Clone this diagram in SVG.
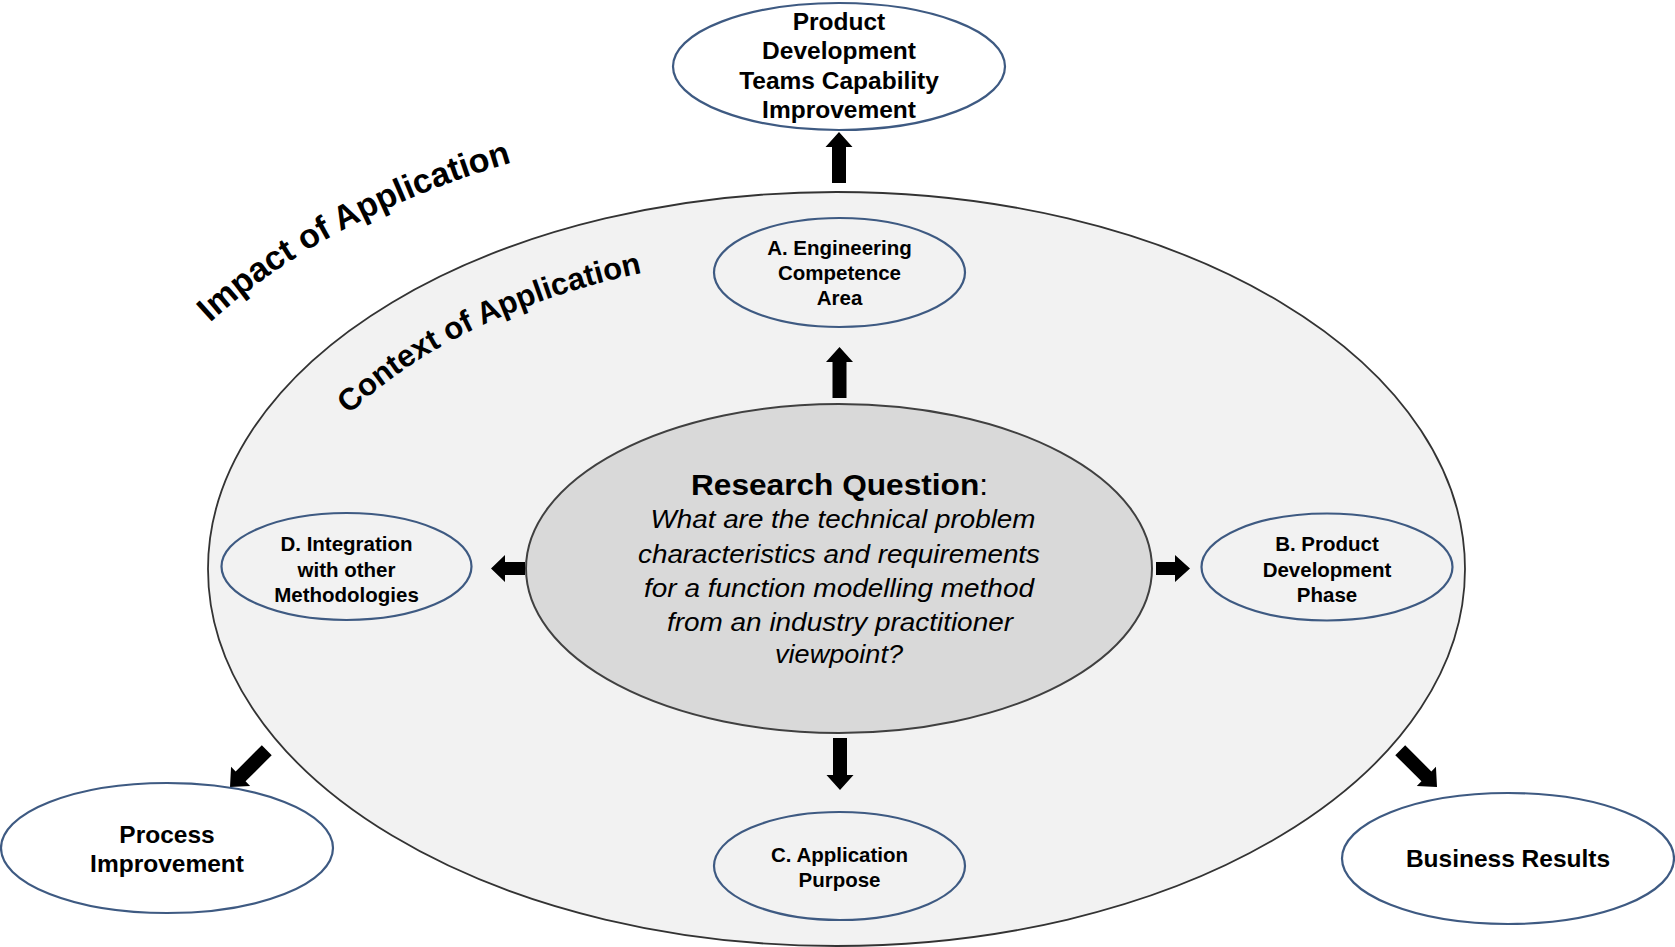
<svg xmlns="http://www.w3.org/2000/svg" width="1675" height="947" viewBox="0 0 1675 947">
<style>
.lbl{font-family:"Liberation Sans",Arial,sans-serif;font-weight:bold;fill:#000;text-anchor:middle}
.s{font-size:20.5px}
.m{font-size:24.5px}
.arc{font-family:"Liberation Sans",Arial,sans-serif;font-weight:bold;fill:#000}
.q{font-family:"Liberation Sans",Arial,sans-serif;font-style:italic;font-size:25px;fill:#000;text-anchor:middle}
.inner{fill:#f2f2f2;stroke:#3e5a82;stroke-width:2.2}
.outer{fill:#ffffff;stroke:#3e5a82;stroke-width:2.2}
.arr{fill:#000}
</style>
<defs>
<path id="pImpact" d="M 166.5 368.7 A 751 454 0 0 1 573.3 146.6" fill="none"/>
<path id="pContext" d="M 308.1 464.5 A 570 327 0 0 1 706.1 261.5" fill="none"/>
</defs>
<rect x="0" y="0" width="1675" height="947" fill="#ffffff"/>

<g id="context">
<ellipse cx="836.5" cy="569" rx="628.5" ry="377" fill="#f2f2f2" stroke="#333333" stroke-width="1.8"/>
</g>

<g id="arc-labels">
<text class="arc" font-size="34"><textPath href="#pImpact" startOffset="50%" text-anchor="middle">Impact of Application</textPath></text>
<text class="arc" font-size="31"><textPath href="#pContext" startOffset="50%" text-anchor="middle">Context of Application</textPath></text>
</g>

<g id="connectors">
<polygon class="arr" transform="translate(839,132) rotate(-90)" points="-51,-7 -15,-7 -15,-13.5 0,0 -15,13.5 -15,7 -51,7"/>
<polygon class="arr" transform="translate(839.5,347) rotate(-90)" points="-51,-7 -15,-7 -15,-13.5 0,0 -15,13.5 -15,7 -51,7"/>
<polygon class="arr" transform="translate(840,790) rotate(90)" points="-52,-7 -15,-7 -15,-13.5 0,0 -15,13.5 -15,7 -52,7"/>
<polygon class="arr" transform="translate(491,568.5) rotate(180)" points="-34,-6.5 -14,-6.5 -14,-13.5 0,0 -14,13.5 -14,6.5 -34,6.5"/>
<polygon class="arr" transform="translate(1190,568.5)" points="-34,-6.5 -15,-6.5 -15,-13.5 0,0 -15,13.5 -15,6.5 -34,6.5"/>
<polygon class="arr" transform="translate(230,787) rotate(135)" points="-52,-7 -15,-7 -15,-13.5 0,0 -15,13.5 -15,7 -52,7"/>
<polygon class="arr" transform="translate(1437,787) rotate(45)" points="-52,-7 -15,-7 -15,-13.5 0,0 -15,13.5 -15,7 -52,7"/>
</g>

<g id="research-question">
<ellipse cx="839" cy="568.5" rx="313" ry="164.5" fill="#d9d9d9" stroke="#404040" stroke-width="2"/>
<text x="839.5" y="495" font-family="&quot;Liberation Sans&quot;, Arial, sans-serif" font-size="29.5" text-anchor="middle" textLength="297" lengthAdjust="spacingAndGlyphs"><tspan font-weight="bold">Research Question</tspan>:</text>
<text class="q" x="843" y="528" textLength="385" lengthAdjust="spacingAndGlyphs">What are the technical problem</text>
<text class="q" x="839" y="563" textLength="402" lengthAdjust="spacingAndGlyphs">characteristics and requirements</text>
<text class="q" x="839" y="597" textLength="390" lengthAdjust="spacingAndGlyphs">for a function modelling method</text>
<text class="q" x="840" y="631" textLength="346" lengthAdjust="spacingAndGlyphs">from an industry practitioner</text>
<text class="q" x="839" y="663" textLength="128" lengthAdjust="spacingAndGlyphs">viewpoint?</text>
</g>

<g id="node-a">
<ellipse class="inner" cx="839.5" cy="272.5" rx="125.5" ry="54.5"/>
<text class="lbl s" x="839.5" y="255">A. Engineering</text>
<text class="lbl s" x="839.5" y="280">Competence</text>
<text class="lbl s" x="839.5" y="305">Area</text>
</g>

<g id="node-b">
<ellipse class="inner" cx="1327" cy="567" rx="125.5" ry="53.5"/>
<text class="lbl s" x="1327" y="551">B. Product</text>
<text class="lbl s" x="1327" y="576.5">Development</text>
<text class="lbl s" x="1327" y="602">Phase</text>
</g>

<g id="node-c">
<ellipse class="inner" cx="839.5" cy="866" rx="125.5" ry="54"/>
<text class="lbl s" x="839.5" y="862">C. Application</text>
<text class="lbl s" x="839.5" y="887">Purpose</text>
</g>

<g id="node-d">
<ellipse class="inner" cx="346.5" cy="566.5" rx="125" ry="53.5"/>
<text class="lbl s" x="346.5" y="551">D. Integration</text>
<text class="lbl s" x="346.5" y="576.5">with other</text>
<text class="lbl s" x="346.5" y="602">Methodologies</text>
</g>

<g id="node-team">
<ellipse class="outer" cx="839" cy="66.5" rx="166" ry="63.5"/>
<text class="lbl m" x="839" y="30">Product</text>
<text class="lbl m" x="839" y="59.3">Development</text>
<text class="lbl m" x="839" y="88.6">Teams Capability</text>
<text class="lbl m" x="839" y="118">Improvement</text>
</g>

<g id="node-process">
<ellipse class="outer" cx="167" cy="848" rx="166" ry="65"/>
<text class="lbl m" x="167" y="843">Process</text>
<text class="lbl m" x="167" y="872">Improvement</text>
</g>

<g id="node-business">
<ellipse class="outer" cx="1508" cy="858.5" rx="166" ry="65.5"/>
<text class="lbl m" x="1508" y="867">Business Results</text>
</g>
</svg>
